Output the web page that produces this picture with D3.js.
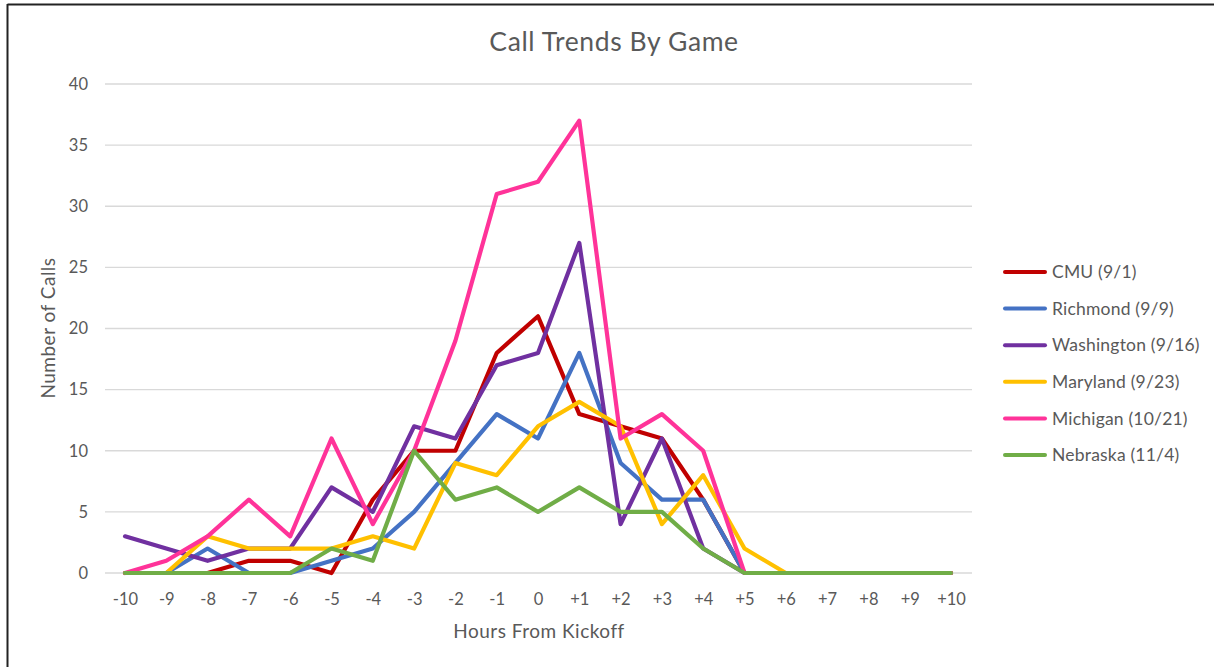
<!DOCTYPE html>
<html>
<head>
<meta charset="utf-8">
<script src="https://cdn.jsdelivr.net/npm/d3@7"></script>
<style>
  html, body { margin: 0; padding: 0; background: #fff; }
  svg { display: block; }
  text { font-family: Lato, "Open Sans", "Liberation Sans", sans-serif; fill: #595959; }
</style>
</head>
<body>
<svg id="chart" width="1214" height="667"></svg>
<script>
const categories = ["-10","-9","-8","-7","-6","-5","-4","-3","-2","-1","0","+1","+2","+3","+4","+5","+6","+7","+8","+9","+10"];
const seriesNames = ["CMU (9/1)","Richmond (9/9)","Washington (9/16)","Maryland (9/23)","Michigan (10/21)","Nebraska (11/4)"];
const seriesColors = ["#C00000","#4472C4","#7030A0","#FFC000","#FF3399","#70AD47"];
const cmu        = [0,0,0,1,1,0,6,10,10,18,21,13,12,11,6,0,0,0,0,0,0];
const richmond   = [0,0,2,0,0,1,2,5,9,13,11,18,9,6,6,0,0,0,0,0,0];
const washington = [3,2,1,2,2,7,5,12,11,17,18,27,4,11,2,0,0,0,0,0,0];
const maryland   = [0,0,3,2,2,2,3,2,9,8,12,14,12,4,8,2,0,0,0,0,0];
const michigan   = [0,1,3,6,3,11,4,10,19,31,32,37,11,13,10,0,0,0,0,0,0];
const nebraska   = [0,0,0,0,0,2,1,10,6,7,5,7,5,5,2,0,0,0,0,0,0];
const yTicks = [0,5,10,15,20,25,30,35,40];
const seriesValues = [cmu, richmond, washington, maryland, michigan, nebraska];

const svg = d3.select("#chart");

// frame border (top and left)
svg.append("line").attr("x1",7.5).attr("x2",1214).attr("y1",4.5).attr("y2",4.5).attr("stroke","#222").attr("stroke-width",2);
svg.append("line").attr("x1",7.5).attr("x2",7.5).attr("y1",4).attr("y2",667).attr("stroke","#222").attr("stroke-width",2);

const x = d3.scalePoint().domain(categories).range([125, 951]);
const y = d3.scaleLinear().domain([0, 40]).range([573, 84]);

// gridlines
svg.append("g").selectAll("line").data(yTicks).join("line")
  .attr("x1", 105).attr("x2", 972)
  .attr("y1", d => y(d)).attr("y2", d => y(d))
  .attr("stroke", "#d9d9d9").attr("stroke-width", 1.3);

// y axis labels
const yAxis = d3.axisLeft(y).tickValues(yTicks).tickSize(0).tickPadding(0);
const gy = svg.append("g").attr("transform", "translate(88,0)").call(yAxis);
gy.select(".domain").remove();
gy.selectAll("text").style("font-size", "16.5px").attr("fill", "#595959")
  .style("font-family", "Lato, 'Open Sans', sans-serif");

// x axis labels
const xAxis = d3.axisBottom(x).tickSize(0).tickPadding(0);
const gx = svg.append("g").attr("transform", "translate(0,593)").call(xAxis);
gx.select(".domain").remove();
gx.selectAll("text").style("font-size", "16.5px").attr("fill", "#595959")
  .style("font-family", "Lato, 'Open Sans', sans-serif");

// lines
const line = d3.line().x((d, i) => x(categories[i])).y(d => y(d));
svg.append("g").selectAll("path").data(seriesValues).join("path")
  .attr("d", d => line(d))
  .attr("fill", "none")
  .attr("stroke", (d, i) => seriesColors[i])
  .attr("stroke-width", 4.2)
  .attr("stroke-linejoin", "round")
  .attr("stroke-linecap", "round");

// title
svg.append("text").attr("x", 614).attr("y", 51).attr("text-anchor", "middle")
  .style("font-size", "26.5px").style("letter-spacing", "0.6px").text("Call Trends By Game");

// axis titles
svg.append("text").attr("x", 539).attr("y", 638).attr("text-anchor", "middle")
  .style("font-size", "19px").style("letter-spacing", "0.5px").text("Hours From Kickoff");
svg.append("text").attr("transform", "translate(55,328) rotate(-90)").attr("text-anchor", "middle")
  .style("font-size", "19px").style("letter-spacing", "0.5px").text("Number of Calls");

// legend
const leg = svg.append("g").selectAll("g").data(seriesNames).join("g")
  .attr("transform", (d, i) => `translate(1004,${272 + i * 36.6})`);
leg.append("line").attr("x1", 1).attr("x2", 41).attr("y1", 0).attr("y2", 0)
  .attr("stroke", (d, i) => seriesColors[i]).attr("stroke-width", 4).attr("stroke-linecap", "round");
leg.append("text").attr("x", 48).attr("y", 0).attr("dy", "0.35em")
  .style("font-size", "17.5px").style("letter-spacing", "0.2px").text(d => d);
</script>
</body>
</html>
